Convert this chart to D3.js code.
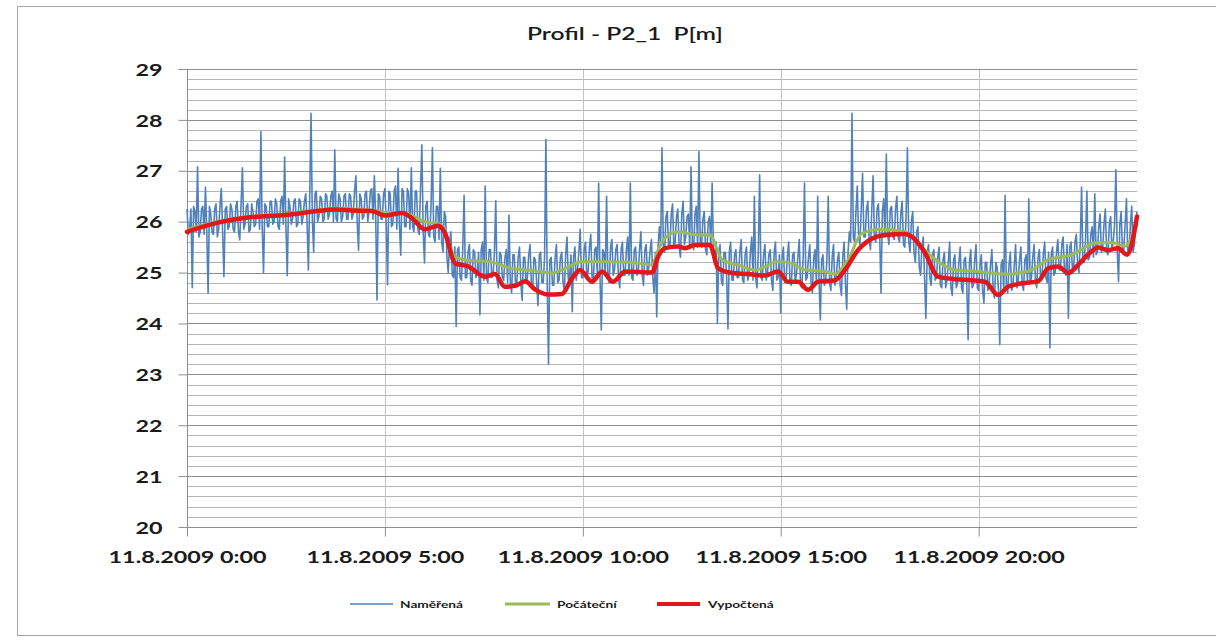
<!DOCTYPE html>
<html>
<head>
<meta charset="utf-8">
<script src="https://cdn.jsdelivr.net/npm/d3@7"></script>
<style>
  html, body { margin: 0; padding: 0; background: #fff; }
  svg { display: block; }
  text { font-family: Lato, "Open Sans", sans-serif; fill: #1a1a1a; }
</style>
</head>
<body>
<svg id="chart" width="1216" height="641"></svg>
<script>
// ---------------- DATA ----------------
const chartTitle = "Profil - P2_1  P[m]";
const seriesNames = ["Naměřená", "Počáteční", "Vypočtená"];

const yTicks = [20, 21, 22, 23, 24, 25, 26, 27, 28, 29];
const xTickHours = [0, 5, 10, 15, 20];
const xTickLabels = ["11.8.2009 0:00", "11.8.2009 5:00", "11.8.2009 10:00", "11.8.2009 15:00", "11.8.2009 20:00"];

// Naměřená – measured, readings at 0, 4, 8 ... minutes (0:00 .. 24:00)
const measuredAt4Min = [
  26.25,25.85,24.70,26.20,27.08,25.80,26.30,26.68,24.60,26.15,25.75,26.35,25.85,26.65,24.92,
  26.30,25.90,26.25,25.80,26.40,25.64,27.06,25.95,26.35,25.85,26.20,25.95,26.45,27.77,25.00,
  26.30,25.90,26.40,26.00,26.35,25.85,26.50,27.27,24.94,26.30,26.05,26.45,25.95,26.40,26.10,
  26.55,25.05,28.13,25.40,26.60,26.10,26.45,26.05,26.50,26.15,26.60,27.41,26.00,26.45,26.10,
  26.55,26.05,26.50,26.15,26.90,25.44,26.45,26.10,26.60,26.20,26.65,26.90,24.46,26.50,26.05,
  26.65,24.76,26.55,25.95,26.70,27.05,25.34,26.60,25.90,26.55,27.06,25.80,26.60,25.75,27.51,
  25.19,26.40,25.70,27.45,25.60,26.30,27.05,25.40,26.10,25.00,25.80,24.90,23.94,25.50,24.85,
  26.52,24.90,25.55,24.75,25.40,25.00,24.17,25.60,26.70,24.80,25.45,24.95,26.41,24.70,25.35,
  24.85,25.45,26.13,24.60,25.35,24.80,25.50,24.45,25.30,24.90,25.55,24.70,25.25,24.35,25.40,
  24.80,27.62,23.20,25.30,24.75,25.55,24.85,25.40,24.65,25.70,24.90,24.23,25.50,25.05,25.85,
  24.90,25.60,25.00,25.75,24.85,25.50,26.76,23.87,25.40,26.50,24.80,25.65,25.05,25.55,24.70,
  25.60,24.95,25.70,26.76,24.85,25.50,25.00,25.80,24.75,25.55,25.10,25.65,24.60,24.13,25.90,
  27.45,25.40,26.20,25.50,26.35,25.60,26.25,25.30,26.40,25.70,26.15,27.08,25.45,26.30,27.38,
  25.50,26.20,25.35,26.10,26.76,25.20,24.00,25.55,24.75,25.40,23.89,25.60,24.85,25.45,24.90,
  25.65,24.80,25.50,24.95,25.70,26.50,24.70,26.92,24.85,25.55,25.00,25.45,24.65,25.60,24.90,
  24.20,25.50,24.85,25.60,24.75,25.40,25.00,25.65,24.70,26.76,24.90,25.55,24.60,25.45,26.50,
  24.07,25.35,24.80,26.50,24.65,25.55,24.90,25.40,24.55,25.60,24.28,25.80,28.13,25.60,26.70,
  25.55,26.95,25.70,26.40,25.45,26.90,25.60,26.35,24.60,26.45,27.33,25.55,26.30,25.65,26.50,
  25.60,26.40,25.50,27.45,25.40,26.20,25.20,25.90,24.95,25.70,24.10,25.55,24.75,25.45,24.90,
  25.50,24.70,25.40,24.85,25.60,24.55,25.35,24.80,25.50,24.60,25.30,23.68,25.45,24.75,25.55,
  24.65,25.35,24.40,25.20,24.80,25.45,24.50,25.10,23.58,25.25,26.52,24.60,25.40,24.75,25.55,
  24.85,25.50,24.65,25.35,26.45,24.90,25.55,24.70,25.45,24.95,25.60,24.80,23.52,25.50,25.00,
  25.65,25.05,25.70,24.95,24.10,25.60,25.10,25.75,25.00,26.68,25.20,26.60,25.30,25.90,26.55,
  25.40,26.15,25.50,26.25,25.35,26.10,25.60,27.02,24.82,26.20,25.45,26.45,25.40,26.30,25.55,26.20
];
// Naměřená – readings at 2, 6, 10 ... minutes
const measuredBetween = [
  25.75,26.25,26.30,25.80,25.70,26.25,25.75,25.80,26.30,25.80,26.25,25.70,26.30,25.80,26.25,
  25.85,26.35,25.85,26.30,25.80,26.35,25.85,26.30,25.80,26.35,25.90,26.40,25.85,25.90,26.35,
  25.90,26.40,25.95,26.45,25.90,26.40,25.95,25.90,26.45,25.95,26.40,25.90,26.45,25.95,26.40,
  26.00,26.50,26.05,26.55,26.00,26.50,26.00,26.55,26.05,26.50,26.00,26.05,26.55,26.00,26.50,
  26.05,26.55,26.05,26.60,26.00,26.55,26.05,26.55,26.00,26.60,26.05,26.10,26.55,26.05,26.55,
  25.95,26.60,25.90,26.60,25.85,25.95,26.65,25.90,26.65,25.85,25.90,26.60,25.85,26.65,25.80,
  26.30,25.75,26.35,25.70,26.30,25.65,25.60,26.20,25.30,25.60,24.95,25.50,25.45,24.90,25.45,
  24.90,25.40,24.85,25.45,24.90,25.40,25.45,24.85,24.90,25.45,24.90,25.40,24.85,25.40,24.90,
  25.30,24.80,24.85,25.35,24.75,25.30,24.80,25.30,24.80,25.35,24.75,25.30,24.80,25.35,24.80,
  25.30,24.80,25.25,24.75,25.30,24.80,25.30,24.80,25.35,24.85,25.35,25.30,24.85,25.40,24.90,
  25.45,24.95,25.50,24.90,25.45,24.95,24.95,25.45,24.95,24.90,25.50,24.95,25.45,24.90,25.45,
  24.95,25.45,24.95,24.90,25.45,24.95,25.45,24.95,25.45,24.95,25.45,24.90,25.40,25.50,25.55,
  25.50,26.10,25.50,26.15,25.50,26.10,25.50,26.15,25.55,26.10,25.50,25.55,26.15,25.50,25.55,
  26.05,25.45,26.00,25.50,25.45,25.60,25.40,24.85,25.40,24.90,25.40,24.85,25.35,24.90,25.40,
  24.85,25.35,24.85,25.40,24.85,24.90,25.40,24.90,25.35,24.85,25.35,24.85,25.40,24.85,25.35,
  25.30,24.80,25.30,24.80,25.35,24.80,25.30,24.75,25.30,24.85,25.30,24.80,25.30,24.80,24.85,
  25.25,24.75,25.25,24.80,25.30,24.75,25.25,24.75,25.30,24.80,25.40,25.60,25.70,26.20,25.70,
  26.25,25.70,26.25,25.65,26.25,25.70,26.25,25.70,26.20,25.70,25.75,26.25,25.70,26.25,25.70,
  26.15,25.55,26.10,25.60,26.00,25.40,25.80,25.10,25.50,24.90,25.40,24.90,25.35,24.85,25.30,
  24.75,25.25,24.70,25.20,24.70,25.25,24.70,25.20,24.70,25.25,24.75,25.20,24.70,25.25,24.70,
  25.15,24.65,25.20,24.65,25.15,24.65,25.20,24.65,25.15,24.65,24.70,25.15,24.65,25.15,24.70,
  25.25,24.75,25.25,24.80,24.80,25.30,24.85,25.30,24.85,25.35,24.90,25.40,25.35,24.95,25.40,
  25.05,25.55,25.05,25.55,25.50,25.10,25.60,25.15,25.60,25.20,25.65,25.25,25.75,25.30,25.35,
  25.90,25.40,25.95,25.40,25.95,25.45,25.95,25.45,25.95,25.40,25.95,25.40,25.95,25.40,25.90
];

// Počáteční – initial
const initialHours  = [0.0,0.78,1.64,2.48,3.31,3.74,4.17,4.67,5.0,5.43,5.68,6.01,6.42,6.77,7.03,7.71,8.21,8.72,9.22,9.55,9.98,10.56,11.24,11.75,11.90,12.08,12.41,12.91,13.21,13.52,13.92,14.35,14.93,15.28,15.62,16.12,16.37,16.70,17.05,17.56,18.14,18.39,18.82,19.40,19.98,20.66,21.24,21.75,22.36,22.94,23.37,23.70,24.0];
const initialValues = [25.85,26.00,26.11,26.15,26.23,26.27,26.25,26.23,26.18,26.17,26.12,26.00,25.94,25.31,25.25,25.20,25.08,25.04,24.99,25.08,25.21,25.21,25.20,25.15,25.44,25.68,25.80,25.74,25.74,25.25,25.15,25.05,25.21,25.18,25.05,25.02,24.97,25.25,25.77,25.85,25.80,25.64,25.31,25.05,25.02,24.97,25.02,25.25,25.35,25.58,25.59,25.52,25.95];

// Vypočtená – computed
const computedHours  = [0.0,0.78,1.64,2.48,3.31,3.74,4.17,4.67,5.0,5.43,5.68,6.01,6.34,6.52,6.77,7.10,7.53,7.78,8.03,8.29,8.54,8.79,9.12,9.47,9.73,9.93,10.23,10.49,10.76,11.07,11.75,11.90,12.08,12.41,12.58,12.83,13.21,13.42,13.77,14.17,14.60,14.93,15.18,15.44,15.69,15.94,16.37,16.62,16.95,17.31,17.64,18.14,18.32,18.65,18.97,19.40,19.83,20.16,20.49,20.74,21.10,21.50,21.75,22.01,22.26,22.51,22.76,23.02,23.27,23.52,23.75,24.0];
const computedValues = [25.80,25.98,26.09,26.13,26.21,26.24,26.22,26.21,26.12,26.17,26.07,25.85,25.92,25.77,25.18,25.12,24.92,24.97,24.72,24.74,24.83,24.67,24.57,24.58,24.89,25.05,24.82,25.02,24.82,25.02,25.00,25.31,25.48,25.51,25.48,25.54,25.54,25.08,24.99,24.97,24.94,25.02,24.82,24.82,24.66,24.82,24.85,25.05,25.44,25.67,25.74,25.76,25.70,25.38,24.92,24.87,24.85,24.82,24.56,24.72,24.79,24.83,25.08,25.12,24.99,25.15,25.35,25.49,25.44,25.48,25.35,26.10];

const colors = { measured: "#4f81bd", initial: "#9bbb59", computed: "#e3161c" };

// ---------------- LAYOUT ----------------
const svg = d3.select("#chart");
const margin = { left: 187, right: 1137, top: 69, bottom: 527 };
const textStretch = 1.37;

const x = d3.scaleLinear().domain([0, 24]).range([margin.left, margin.right]);
const y = d3.scaleLinear().domain([20, 29]).range([margin.bottom, margin.top]);

function stretch(sel, k) {
  sel.each(function () {
    const len = this.getComputedTextLength();
    d3.select(this).attr("textLength", len * k).attr("lengthAdjust", "spacingAndGlyphs");
  });
}

// chart area frame
svg.append("rect")
  .attr("x", 17.5).attr("y", 6.5).attr("width", 1210).attr("height", 629)
  .attr("fill", "#fff").attr("stroke", "#a6a6a6").attr("stroke-width", 1);

// minor horizontal grid
const minorTicks = d3.range(20, 29.0001, 0.2).map(v => +v.toFixed(1)).filter(v => Math.abs(v - Math.round(v)) > 1e-6);
svg.append("g").selectAll("line").data(minorTicks).join("line")
  .attr("x1", margin.left).attr("x2", margin.right)
  .attr("y1", d => Math.round(y(d)) + 0.5).attr("y2", d => Math.round(y(d)) + 0.5)
  .attr("stroke", "#b4b4b4").attr("stroke-width", 1);

// vertical grid
svg.append("g").selectAll("line").data(xTickHours.filter(h => h > 0)).join("line")
  .attr("x1", d => Math.round(x(d)) + 0.5).attr("x2", d => Math.round(x(d)) + 0.5)
  .attr("y1", margin.top).attr("y2", margin.bottom)
  .attr("stroke", "#c4c4c4").attr("stroke-width", 1);

// major horizontal grid
svg.append("g").selectAll("line").data(yTicks).join("line")
  .attr("x1", margin.left).attr("x2", margin.right)
  .attr("y1", d => Math.round(y(d)) + 0.5).attr("y2", d => Math.round(y(d)) + 0.5)
  .attr("stroke", "#8e8e8e").attr("stroke-width", 1);

// y axis
const yAxis = svg.append("g").attr("transform", `translate(${margin.left + 0.5},0)`)
  .call(d3.axisLeft(y).tickValues(yTicks).tickSize(9).tickPadding(16).tickFormat(d3.format("d")));
yAxis.select(".domain").attr("stroke", "#8e8e8e").attr("d", `M0,${margin.top}V${margin.bottom + 9}`);
yAxis.selectAll(".tick line").attr("stroke", "#8e8e8e");
yAxis.selectAll(".tick text").attr("font-size", 17).attr("font-weight", 700)
  .attr("font-family", "Lato").attr("fill", "#1a1a1a").attr("dy", "0.36em");

// x axis
const xAxis = svg.append("g").attr("transform", `translate(0,${margin.bottom + 0.5})`)
  .call(d3.axisBottom(x).tickValues(xTickHours).tickSize(9).tickPadding(14)
    .tickFormat((d, i) => xTickLabels[i]));
xAxis.select(".domain").remove();
xAxis.selectAll(".tick line").attr("stroke", "#8e8e8e");
xAxis.selectAll(".tick text").attr("font-size", 17).attr("font-weight", 700)
  .attr("font-family", "Lato").attr("fill", "#1a1a1a");

// series
const measured = [];
measuredAt4Min.forEach((v, i) => {
  measured.push([i * 4 / 60, v]);
  if (i < measuredBetween.length) measured.push([(i * 4 + 2) / 60, measuredBetween[i]]);
});
const initial = initialHours.map((h, i) => [h, initialValues[i]]);
const computed = computedHours.map((h, i) => [h, computedValues[i]]);

const lineLin = d3.line().x(d => x(d[0])).y(d => y(d[1]));
const lineSmooth = d3.line().x(d => x(d[0])).y(d => y(d[1])).curve(d3.curveMonotoneX);

svg.append("path").datum(measured).attr("d", lineLin)
  .attr("fill", "none").attr("stroke", colors.measured).attr("stroke-width", 1.6).attr("stroke-linejoin", "round");
svg.append("path").datum(initial).attr("d", lineSmooth)
  .attr("fill", "none").attr("stroke", colors.initial).attr("stroke-width", 3).attr("stroke-linejoin", "round");
svg.append("path").datum(computed).attr("d", lineSmooth)
  .attr("fill", "none").attr("stroke", colors.computed).attr("stroke-width", 4.5).attr("stroke-linejoin", "round").attr("stroke-linecap", "round");

// title
const title = svg.append("text").attr("x", 625).attr("y", 40).attr("text-anchor", "middle")
  .attr("font-size", 17).attr("font-weight", 600).style("white-space", "pre")
  .text(chartTitle);

// legend
const legendItems = [
  { name: seriesNames[0], color: colors.measured, w: 1.5, x0: 350, x1: 393, tx: 400 },
  { name: seriesNames[1], color: colors.initial, w: 3, x0: 505, x1: 550, tx: 557 },
  { name: seriesNames[2], color: colors.computed, w: 4, x0: 657, x1: 700, tx: 708 }
];
const lg = svg.append("g");
lg.selectAll("line").data(legendItems).join("line")
  .attr("x1", d => d.x0).attr("x2", d => d.x1).attr("y1", 604).attr("y2", 604)
  .attr("stroke", d => d.color).attr("stroke-width", d => d.w);
lg.selectAll("text").data(legendItems).join("text")
  .attr("x", d => d.tx).attr("y", 607.5).attr("font-size", 10).attr("font-weight", 700)
  .attr("fill", "#333").text(d => d.name);

// stretch text horizontally like the reference rendering
stretch(svg.selectAll("text"), textStretch);
title.attr("textLength", 196);
</script>
</body>
</html>
